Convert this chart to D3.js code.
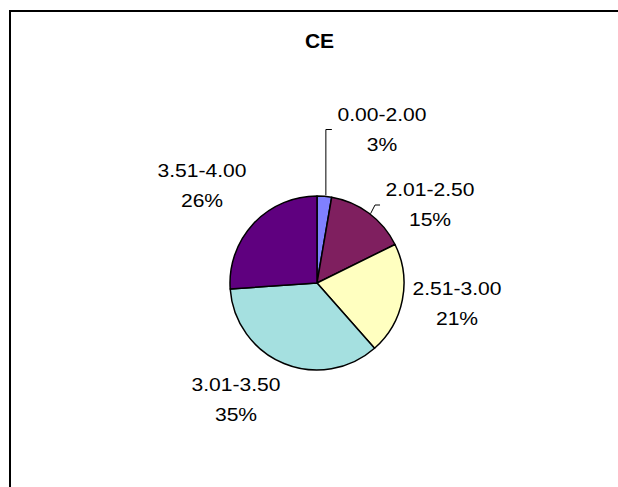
<!DOCTYPE html>
<html>
<head>
<meta charset="utf-8">
<script src="https://cdn.jsdelivr.net/npm/d3@7"></script>
<style>
  html, body { margin: 0; padding: 0; background: #fff; }
  svg { display: block; }
  text { font-family: "Liberation Sans", Arial, sans-serif; fill: #000; }
</style>
</head>
<body>
<svg id="chart" width="618" height="487"></svg>
<script>
// ---- data ----
const title = "CE";
const categories = ["0.00-2.00", "2.01-2.50", "2.51-3.00", "3.01-3.50", "3.51-4.00"];
const values = [2.7, 15.0, 20.8, 35.4, 26.1];
const colors = ["#8080FF", "#7F1F5F", "#FFFFC0", "#A5E0E0", "#5F007F"];

// ---- layout (label block centres relative to the pie centre) ----
const labelOffsets = [[65, -153], [113, -78], [140, 21], [-81, 117], [-115, -97]];
const leaderSlices = [0, 1];

const cx = 317, cy = 283, R = 87;
const svg = d3.select("#chart");

// chart border (right/bottom edges run past the image)
svg.append("rect")
  .attr("x", 10).attr("y", 11)
  .attr("width", 640).attr("height", 520)
  .attr("fill", "#fff").attr("stroke", "#000").attr("stroke-width", 2);

svg.append("text")
  .attr("x", 319.5).attr("y", 48)
  .attr("text-anchor", "middle")
  .attr("font-size", 21).attr("font-weight", "bold")
  .text(title);

const total = d3.sum(values);
const pie = d3.pie().sort(null).value(d => d)
  .startAngle(0).endAngle(2 * Math.PI);
const arcs = pie(values);
const arc = d3.arc().innerRadius(0).outerRadius(R);

const g = svg.append("g").attr("transform", `translate(${cx},${cy})`);

g.selectAll("path.slice")
  .data(arcs)
  .enter().append("path")
  .attr("class", "slice")
  .attr("d", arc)
  .attr("fill", (d, i) => colors[i])
  .attr("stroke", "#000")
  .attr("stroke-width", 1.5)
  .attr("stroke-linejoin", "round");

const pct = d3.format(".0%");

// labels
const lab = g.selectAll("g.lab")
  .data(arcs)
  .enter().append("g")
  .attr("class", "lab")
  .attr("transform", (d, i) => `translate(${labelOffsets[i][0]},${labelOffsets[i][1]})`);

function stretch(sel) {
  sel.each(function () {
    const len = this.getComputedTextLength();
    d3.select(this)
      .attr("textLength", len * 1.14)
      .attr("lengthAdjust", "spacingAndGlyphs");
  });
}

lab.append("text")
  .attr("text-anchor", "middle")
  .attr("font-size", 18.5)
  .attr("y", -9)
  .text((d, i) => categories[i])
  .call(stretch);

lab.append("text")
  .attr("text-anchor", "middle")
  .attr("font-size", 18.5)
  .attr("y", 21)
  .text(d => pct(d.value / total))
  .call(stretch);

// leader lines
function edgePoint(d) {
  const a = (d.startAngle + d.endAngle) / 2;
  return [R * Math.sin(a), -R * Math.cos(a)];
}
leaderSlices.forEach(i => {
  const d = arcs[i];
  const p = edgePoint(d);
  const off = labelOffsets[i];
  let pts;
  if (i === 0) {
    const yTop = off[1] - 0.5;
    pts = [[p[0] + 1.5, p[1] - 1], [p[0] + 1.5, yTop], [p[0] + 7.5, yTop]];
  } else {
    const yL = off[1];
    pts = [[p[0] + 1.5, p[1] + 0.5], [p[0] + 6, yL], [p[0] + 11, yL]];
  }
  g.append("path")
    .attr("d", d3.line()(pts))
    .attr("fill", "none")
    .attr("stroke", "#000")
    .attr("stroke-width", 1);
});
</script>
</body>
</html>
